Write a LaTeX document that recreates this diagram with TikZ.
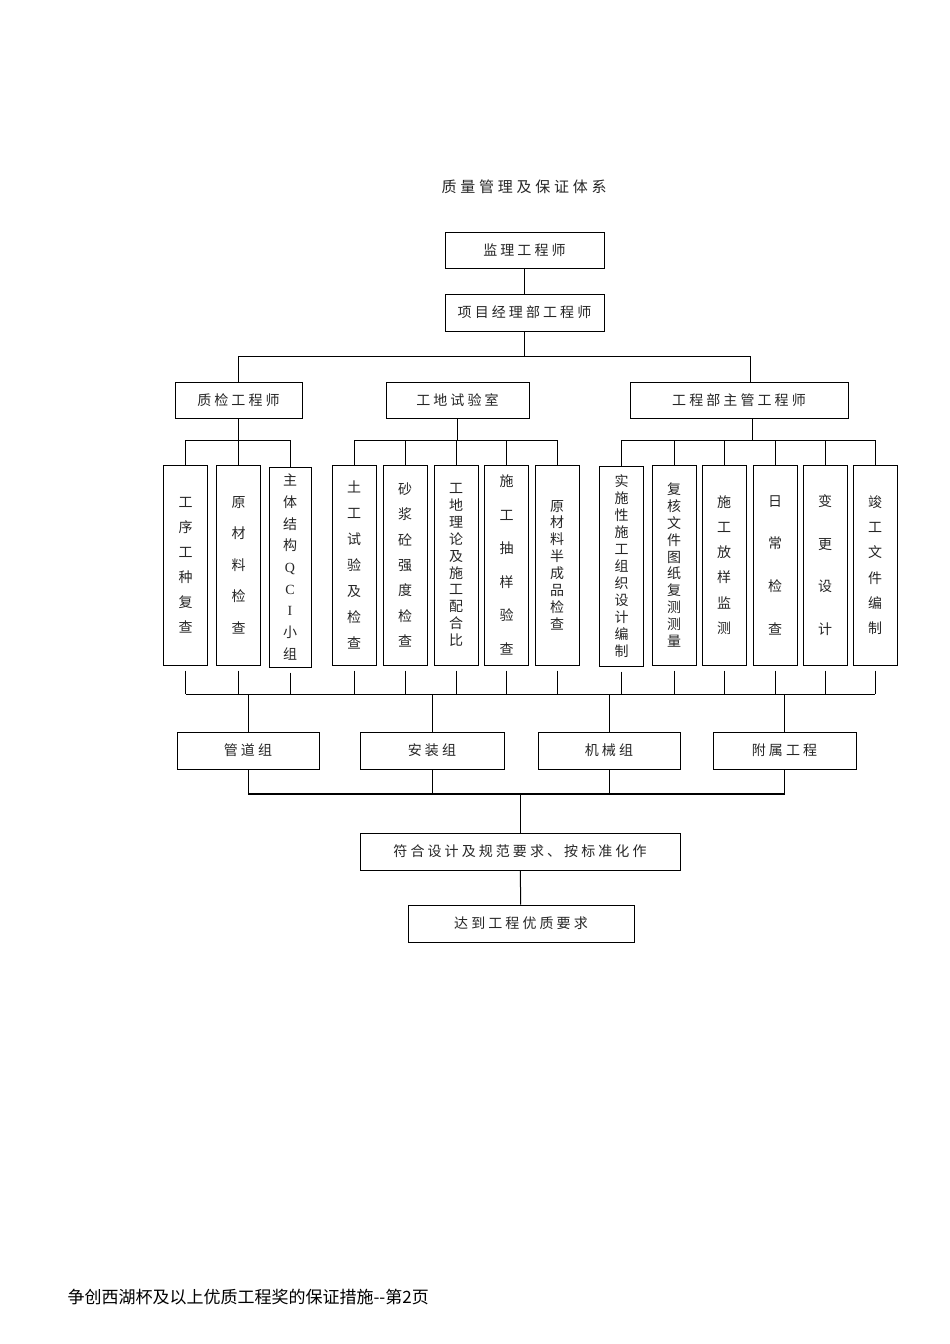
\documentclass[tikz,border=0pt]{standalone}
\usepackage{fontspec}
\newfontfamily\cjkfont{Noto Sans CJK SC}
\newfontfamily\boxfont[LetterSpace=22]{Noto Sans CJK SC}
\newfontfamily\titlefont[LetterSpace=25]{Noto Sans CJK SC}
\newfontfamily\latinfont{Liberation Serif}

\begin{document}
\begin{tikzpicture}[x=1pt,y=-1pt,
  hbox/.style={draw,line width=1pt,inner sep=0pt,minimum height=37pt,font=\boxfont\fontsize{14}{16}\selectfont,text=black!85},
  vcol/.style={draw,line width=1pt,inner sep=0pt,minimum width=44pt,minimum height=200pt,align=center,font=\cjkfont\fontsize{14}{#1}\selectfont,text=black!85},
  wire/.style={line width=1pt},
  stub/.style={wire,shorten <=5pt}]
\useasboundingbox[fill=white] (0,0) rectangle (950,1344);
\node[font=\titlefont\fontsize{15}{17}\selectfont,text=black!85] (title) at (524,187) {质量管理及保证体系};
\node[hbox,minimum width=159pt,minimum height=36pt] (jl) at (524.5,250) {监理工程师};
\node[hbox,minimum width=159pt] (xm) at (524.5,312.5) {项目经理部工程师};
\node[hbox,minimum width=127pt,minimum height=36pt] (zj) at (238.5,400) {质检工程师};
\node[hbox,minimum width=143pt,minimum height=36pt] (gd) at (457.5,400) {工地试验室};
\node[hbox,minimum width=218pt,minimum height=36pt] (gc) at (739,400) {工程部主管工程师};
\node[vcol=25] (a1) at (185.5,565) {工\\序\\工\\种\\复\\查};
\node[vcol=31.5] (a2) at (238.5,565) {原\\材\\料\\检\\查};
\node[vcol=21.7,minimum width=42pt] (a3) at (290,567) {主\\体\\结\\构\\{\latinfont Q}\\{\latinfont C}\\{\latinfont I}\\小\\组};
\node[vcol=26] (b1) at (354,565) {土\\工\\试\\验\\及\\检\\查};
\node[vcol=25.3] (b2) at (405,565) {砂\\浆\\砼\\强\\度\\检\\查};
\node[vcol=16.9] (b3) at (456,565) {工\\地\\理\\论\\及\\施\\工\\配\\合\\比};
\node[vcol=33.6] (b4) at (506.5,565) {施\\工\\抽\\样\\验\\查};
\node[vcol=16.9] (b5) at (557,565) {原\\材\\料\\半\\成\\品\\检\\查};
\node[vcol=17] (c1) at (621.5,566) {实\\施\\性\\施\\工\\组\\织\\设\\计\\编\\制};
\node[vcol=16.9] (c2) at (674,565) {复\\核\\文\\件\\图\\纸\\复\\测\\测\\量};
\node[vcol=25.3] (c3) at (724,565) {施\\工\\放\\样\\监\\测};
\node[vcol=42.7] (c4) at (775,565) {日\\常\\检\\查};
\node[vcol=42.7] (c5) at (825,565) {变\\更\\设\\计};
\node[vcol=25.3] (c6) at (875,565) {竣\\工\\文\\件\\编\\制};
\node[hbox,minimum width=142pt] (g1) at (248,750.5) {管道组};
\node[hbox,minimum width=144pt] (g2) at (432,750.5) {安装组};
\node[hbox,minimum width=142pt] (g3) at (609,750.5) {机械组};
\node[hbox,minimum width=143pt] (g4) at (784.5,750.5) {附属工程};
\node[hbox,minimum width=320pt] (fh) at (520,851.5) {符合设计及规范要求、按标准化作};
\node[hbox,minimum width=226pt] (dd) at (521,923.5) {达到工程优质要求};
\node[anchor=west,font=\cjkfont\fontsize{17}{20}\selectfont] (foot) at (64,1297) {争创西湖杯及以上优质工程奖的保证措施--第2页};
\coordinate (bus0) at (0,356);
\coordinate (bus1) at (0,440);
\coordinate (bus2) at (0,694);
\coordinate (bus3) at (0,794);
\coordinate (gcin) at ([xshift=11pt]gc.north);
\coordinate (gcout) at ([xshift=13pt]gc.south);
\draw[wire] (jl) -- (xm);
\draw[wire] (xm.south) -- (xm.south |- bus0);
\draw[wire] (zj.north) |- (gcin |- bus0) -- (gcin);
\draw[wire] (zj.south) -- (zj.south |- bus1);
\draw[wire] (a1.north) |- (a3.north |- bus1) -- (a3.north);
\draw[wire] (a2.north) -- (a2.north |- bus1);
\draw[wire] (gd.south) -- (gd.south |- bus1);
\draw[wire] (b1.north) |- (b5.north |- bus1) -- (b5.north);
\draw[wire] (b2.north) -- (b2.north |- bus1);
\draw[wire] (b3.north) -- (b3.north |- bus1);
\draw[wire] (b4.north) -- (b4.north |- bus1);
\draw[wire] (gcout) -- (gcout |- bus1);
\draw[wire] (c1.north) |- (c6.north |- bus1) -- (c6.north);
\draw[wire] (c2.north) -- (c2.north |- bus1);
\draw[wire] (c3.north) -- (c3.north |- bus1);
\draw[wire] (c4.north) -- (c4.north |- bus1);
\draw[wire] (c5.north) -- (c5.north |- bus1);
\draw[stub] (a1.south) -- (a1.south |- bus2);
\draw[stub] (a2.south) -- (a2.south |- bus2);
\draw[stub] (a3.south) -- (a3.south |- bus2);
\draw[stub] (b1.south) -- (b1.south |- bus2);
\draw[stub] (b2.south) -- (b2.south |- bus2);
\draw[stub] (b3.south) -- (b3.south |- bus2);
\draw[stub] (b4.south) -- (b4.south |- bus2);
\draw[stub] (b5.south) -- (b5.south |- bus2);
\draw[stub] (c1.south) -- (c1.south |- bus2);
\draw[stub] (c2.south) -- (c2.south |- bus2);
\draw[stub] (c3.south) -- (c3.south |- bus2);
\draw[stub] (c4.south) -- (c4.south |- bus2);
\draw[stub] (c5.south) -- (c5.south |- bus2);
\draw[stub] (c6.south) -- (c6.south |- bus2);
\draw[wire] (a1.south |- bus2) -- (c6.south |- bus2);
\draw[wire] (g1.north |- bus2) -- (g1.north);
\draw[wire] (g2.north |- bus2) -- (g2.north);
\draw[wire] (g3.north |- bus2) -- (g3.north);
\draw[wire] (g4.north |- bus2) -- (g4.north);
\draw[wire] (g1.south) -- (g1.south |- bus3);
\draw[wire] (g2.south) -- (g2.south |- bus3);
\draw[wire] (g3.south) -- (g3.south |- bus3);
\draw[wire] (g4.south) -- (g4.south |- bus3);
\draw[line width=1.8pt] (g1.south |- bus3) -- (g4.south |- bus3);
\draw[wire] (fh.north |- bus3) -- (fh.north);
\draw[wire] (fh) -- (dd);
\end{tikzpicture}
\end{document}
